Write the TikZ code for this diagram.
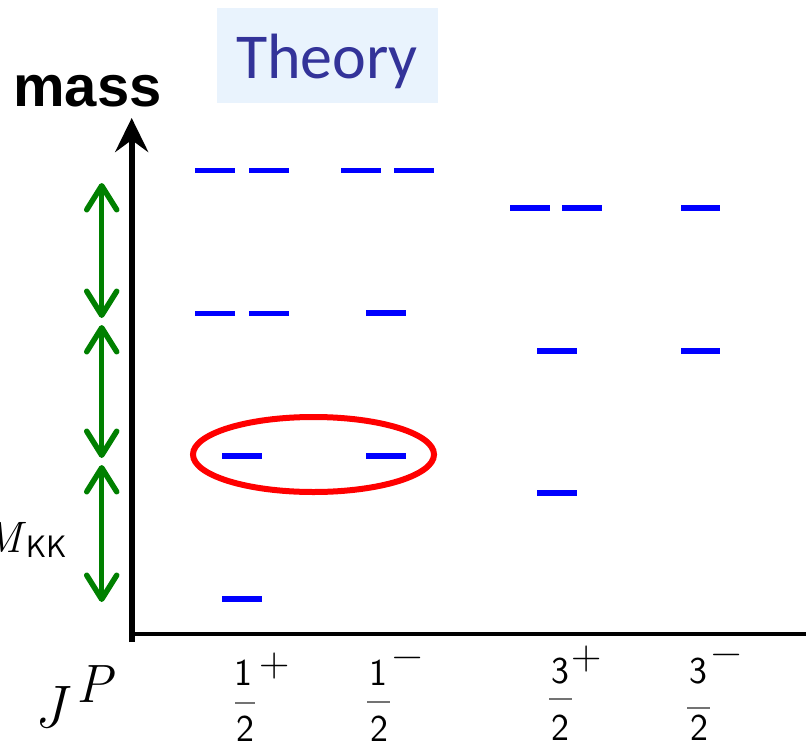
\documentclass[tikz,border=0pt]{standalone}
\usepackage{fontspec}
\usetikzlibrary{arrows.meta}
\newfontfamily\carlito{Carlito}
\newfontfamily\arialfont{Liberation Sans}
\definecolor{levblue}{RGB}{0,0,255}
\definecolor{theoblue}{RGB}{51,51,153}
\definecolor{boxblue}{RGB}{233,243,253}
\definecolor{arrgreen}{RGB}{0,128,0}
\definecolor{ringred}{RGB}{255,0,0}
\tikzset{
  level/.style={levblue,line width=5.5pt},
  gap/.style={arrgreen,line width=5.5pt,{Straight Barb[length=24pt,width=30pt,round]}-{Straight Barb[length=24pt,width=30pt,round]}},
  axis/.style={black,line width=6pt},
  digit/.style={inner sep=0pt,anchor=base,font=\fontsize{38}{38}\selectfont\sffamily},
  sgn/.style={inner sep=0pt,anchor=center,font=\fontsize{42}{42}\selectfont},
  fbar/.style={black!55,line width=1.5pt},
}
\begin{document}
\begin{tikzpicture}[x=1pt,y=-1pt]
\useasboundingbox (0,0) rectangle (806,744);
\clip (0,0) rectangle (806,744);
% Theory label
\fill[boxblue] (217,8) rectangle (438,103);
\node[inner sep=0pt,anchor=base,text=theoblue,font=\fontsize{64}{64}\selectfont\carlito] (theory) at (327,78) {Theory};
% mass label
\node[inner sep=0pt,anchor=base west,font=\fontsize{58}{58}\selectfont\arialfont\bfseries] (mass) at (13,106) {mass};
% axes
\coordinate (orig) at (131.7,642);
\coordinate (top) at (131.7,118);
\coordinate (xend) at (806,633.7);
\coordinate (xstart) at (131.7,633.7);
\draw[axis,-{Stealth[length=34pt,width=33pt,inset=12pt]}] (orig) -- (top);
\draw[black,line width=4pt] (xstart) -- (xend);
% green gap arrows
\coordinate (g1) at (101.7,183);
\coordinate (g2) at (101.7,318);
\coordinate (g3) at (101.7,325);
\coordinate (g4) at (101.7,458);
\coordinate (g5) at (101.7,465);
\coordinate (g6) at (101.7,602);
\draw[gap] (g1) -- (g2);
\draw[gap] (g3) -- (g4);
\draw[gap] (g5) -- (g6);
% M_KK label
\node[inner sep=0pt,anchor=base east,font=\fontsize{44}{44}\selectfont\itshape] (mkk) at (22,552) {M};
\node[inner sep=0pt,anchor=base west,font=\fontsize{31}{31}\selectfont\sffamily] (kk) at (26,557) {KK};
% levels
\draw[level] (195,170.5) -- (235,170.5);
\draw[level] (249,170.5) -- (289,170.5);
\draw[level] (341,170.5) -- (381,170.5);
\draw[level] (394,170.5) -- (434,170.5);
\draw[level] (510,208) -- (550,208);
\draw[level] (562,208) -- (602,208);
\draw[level] (681,208) -- (720,208);
\draw[level] (195,313.5) -- (235,313.5);
\draw[level] (249,313.5) -- (289,313.5);
\draw[level] (366,313) -- (406,313);
\draw[level] (537,351) -- (577,351);
\draw[level] (681,351) -- (720,351);
\draw[level] (222,456) -- (262,456);
\draw[level] (366,456) -- (406,456);
\draw[level] (537,493) -- (577,493);
\draw[level] (222,599) -- (262,599);
% red ellipse
\draw[ringred,line width=6pt] (313.5,454.5) ellipse [x radius=120.5, y radius=37.5];
% J^P
\node[inner sep=0pt,anchor=base,font=\fontsize{60}{60}\selectfont\itshape] (J) at (50,727) {J};
\node[inner sep=0pt,anchor=base,font=\fontsize{54}{54}\selectfont\itshape] (P) at (94,702) {P};
% 1/2 +
\node[digit] (n1) at (243,685) {1};
\node[sgn] (s1) at (274.5,666.5) {+};
\draw[fbar] (235,703) -- (255,703);
\node[digit] (d1) at (245,741) {2};
% 1/2 -
\node[digit] (n2) at (378,685) {1};
\node[sgn] (s2) at (408,663) {−};
\draw[fbar] (367,702) -- (390,702);
\node[digit] (d2) at (379,741) {2};
% 3/2 +
\node[digit] (n3) at (560,683) {3};
\node[sgn] (s3) at (587,659.5) {+};
\draw[fbar] (549,699) -- (572,699);
\node[digit] (d3) at (560,740) {2};
% 3/2 -
\node[digit] (n4) at (698.5,683) {3};
\node[sgn] (s4) at (727,660) {−};
\draw[fbar] (687,708) -- (710,708);
\node[digit] (d4) at (699,740) {2};
\end{tikzpicture}
\end{document}
